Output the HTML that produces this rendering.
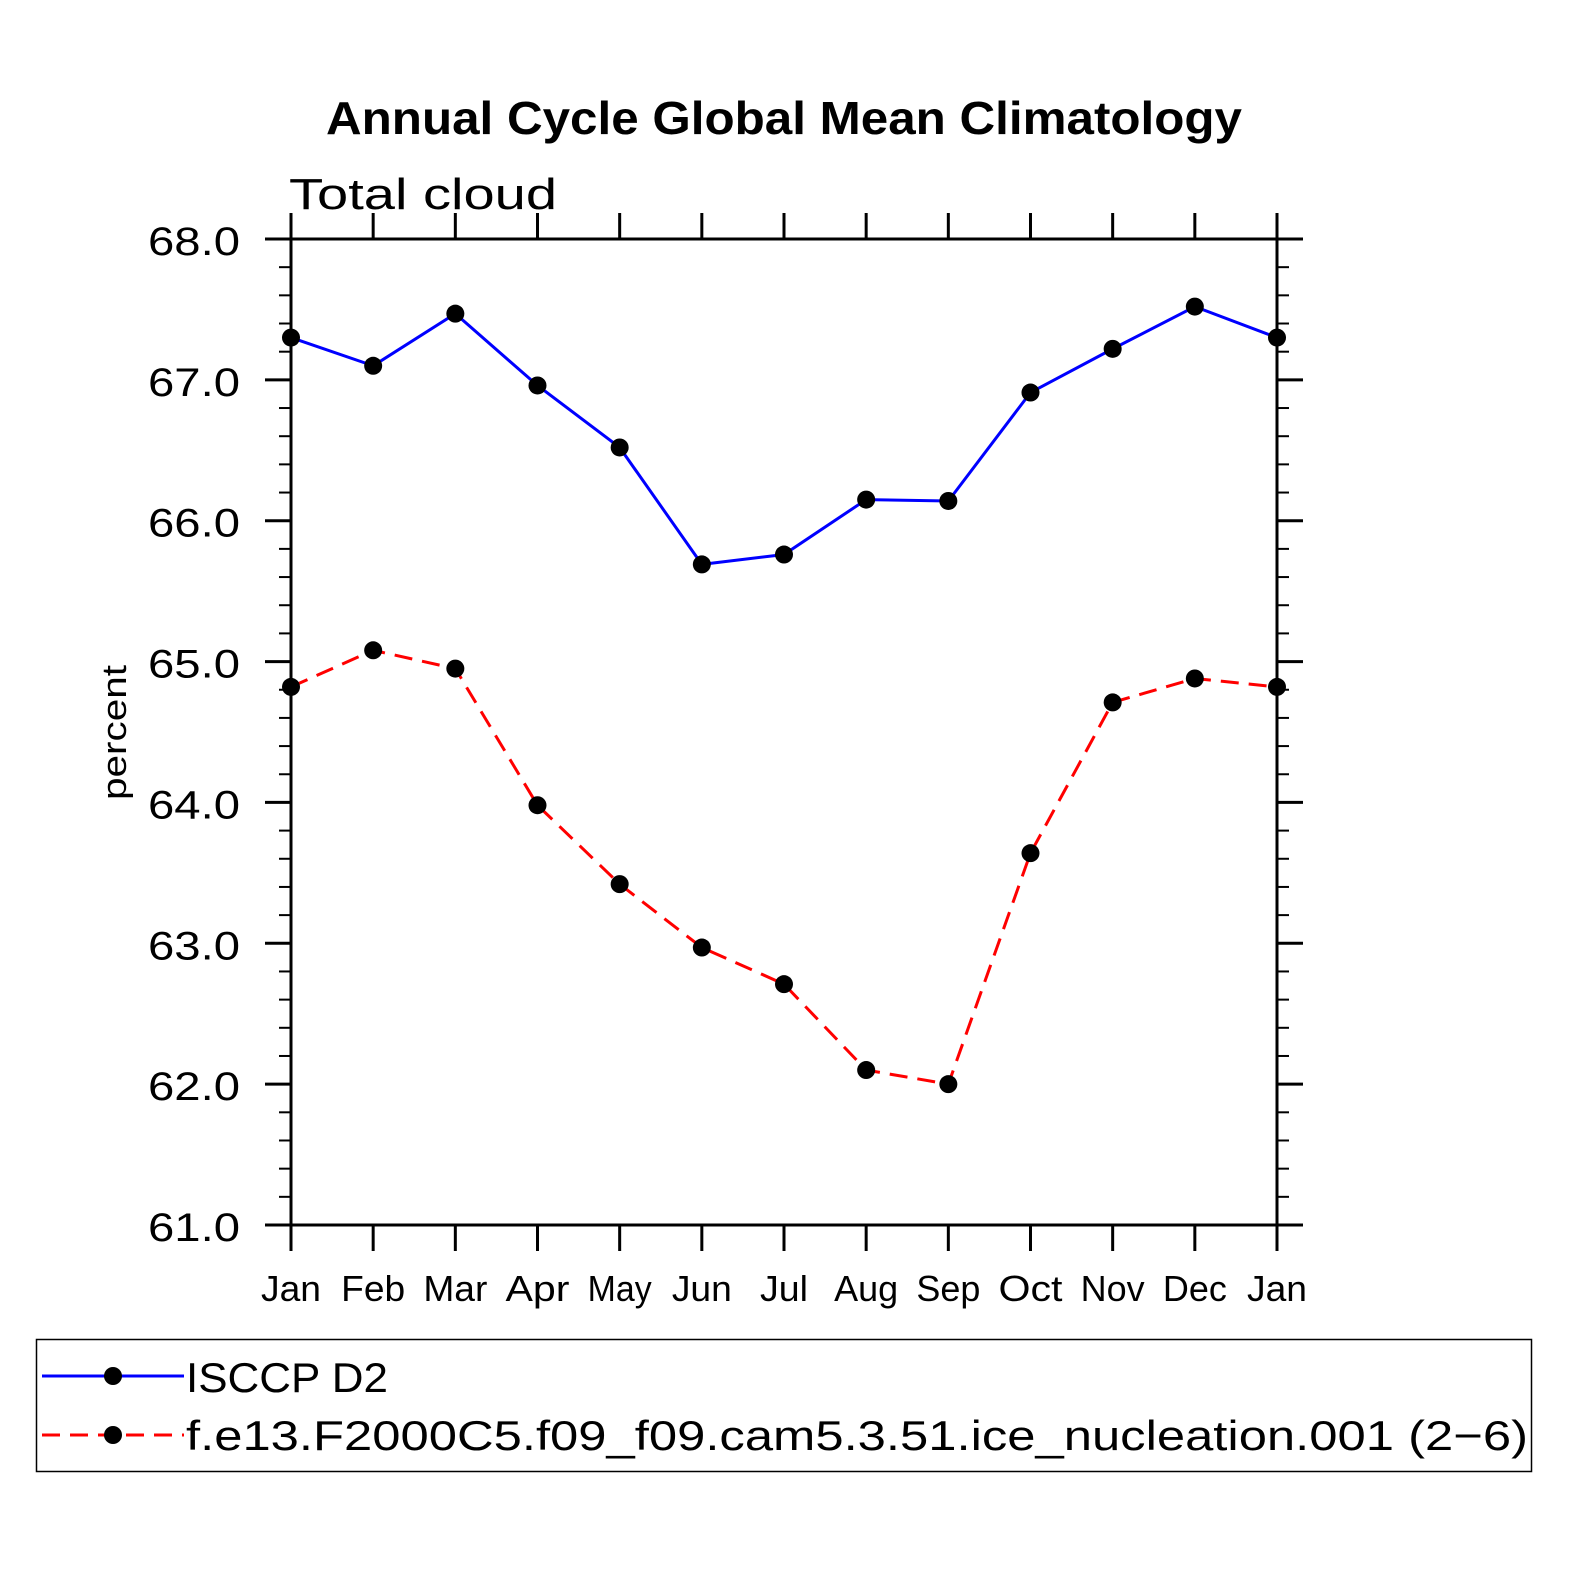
<!DOCTYPE html>
<html><head><meta charset="utf-8"><style>
body{margin:0;background:#fff}
svg{display:block}
text{font-family:"Liberation Sans",sans-serif}
</style></head><body>
<svg id="c" width="1574" height="1574" viewBox="0 0 1574 1574" xmlns="http://www.w3.org/2000/svg">
<rect width="1574" height="1574" fill="#fff"/>
<text x="326" y="134" font-size="46" font-weight="bold" textLength="916" lengthAdjust="spacingAndGlyphs">Annual Cycle Global Mean Climatology</text>
<text x="289" y="209" font-size="44" textLength="268" lengthAdjust="spacingAndGlyphs">Total cloud</text>
<text transform="translate(126,800) rotate(-90)" font-size="34" textLength="135" lengthAdjust="spacingAndGlyphs">percent</text>
<g id="axes"></g>
<g id="series"></g>
<rect x="36.5" y="1339.5" width="1495" height="132" fill="none" stroke="#000" stroke-width="1.5"/>
<g>
<line x1="42" y1="1376" x2="184" y2="1376" stroke="#0000ff" stroke-width="3"/>
<circle cx="113" cy="1376" r="9"/>
<text x="186" y="1392" font-size="42" textLength="202" lengthAdjust="spacingAndGlyphs">ISCCP D2</text>
</g>
<g>
<line x1="42" y1="1435" x2="184" y2="1435" stroke="#ff0000" stroke-width="3" stroke-dasharray="18,10"/>
<circle cx="113" cy="1435" r="9"/>
<text x="186" y="1450" font-size="42" textLength="1342" lengthAdjust="spacingAndGlyphs">f.e13.F2000C5.f09_f09.cam5.3.51.ice_nucleation.001 (2−6)</text>
</g>
</svg>
<script>
const months = ["Jan","Feb","Mar","Apr","May","Jun","Jul","Aug","Sep","Oct","Nov","Dec","Jan"];
const isccp = [67.30,67.10,67.47,66.96,66.52,65.69,65.76,66.15,66.14,66.91,67.22,67.52,67.30];
const model = [64.82,65.08,64.95,63.98,63.42,62.97,62.71,62.10,62.00,63.64,64.71,64.88,64.82];
const yTicks = ["61.0","62.0","63.0","64.0","65.0","66.0","67.0","68.0"];
const yMin = 61, yMax = 68;
const L=291,R=1277,T=239,B=1225;
const NS="http://www.w3.org/2000/svg";
const xs=i=>L+(R-L)*i/(months.length-1);
const ys=v=>B-(B-T)*(v-yMin)/(yMax-yMin);
function mk(tag,attrs,parent){const e=document.createElementNS(NS,tag);for(const k in attrs)e.setAttribute(k,attrs[k]);parent.appendChild(e);return e;}
const ax=document.getElementById('axes');
const frame=mk('rect',{x:L,y:T,width:R-L,height:B-T,fill:'none',stroke:'#000','stroke-width':3},ax);


months.forEach((m,i)=>{
  const x=xs(i);
  mk('line',{x1:x,y1:T,x2:x,y2:T-26,stroke:'#000','stroke-width':3},ax);
  mk('line',{x1:x,y1:B,x2:x,y2:B+26,stroke:'#000','stroke-width':3},ax);
  const w = m.length===3 ? (m==="Jul"?48:(m==="Jun"||m==="Jan"?60:64)) : 60;
  const t=mk('text',{x:x,y:1301,'font-size':36,'text-anchor':'middle',textLength:w,lengthAdjust:'spacingAndGlyphs'},ax);
  
  
  t.textContent=m;
});
for(let k=0;k<=(yMax-yMin)*5;k++){
  const v=yMin+k*0.2, y=ys(v), major=k%5===0, len=major?26:12;
  mk('line',{x1:L,y1:y,x2:L-len,y2:y,stroke:'#000','stroke-width':major?3:2},ax);
  mk('line',{x1:R,y1:y,x2:R+len,y2:y,stroke:'#000','stroke-width':major?3:2},ax);
}
yTicks.forEach(s=>{
  const t=mk('text',{x:148,y:ys(parseFloat(s))+16,'font-size':40,textLength:92,lengthAdjust:'spacingAndGlyphs'},ax);
  
  
  t.textContent=s;
});
const sg=document.getElementById('series');
function draw(vals,color,dash,name){
  const g=mk('g',{},sg);
  
  
  const p=mk('polyline',{points:vals.map((v,i)=>xs(i)+','+ys(v)).join(' '),fill:'none',stroke:color,'stroke-width':3},g);
  if(dash)p.setAttribute('stroke-dasharray',dash);
  vals.forEach((v,i)=>{
    const c=mk('circle',{cx:xs(i),cy:ys(v),r:9,fill:'#000'},g);
    
    
  });
}
draw(isccp,'#0000ff',null,'series-isccp');
draw(model,'#ff0000','18,10','series-model');
</script>
</body></html>
